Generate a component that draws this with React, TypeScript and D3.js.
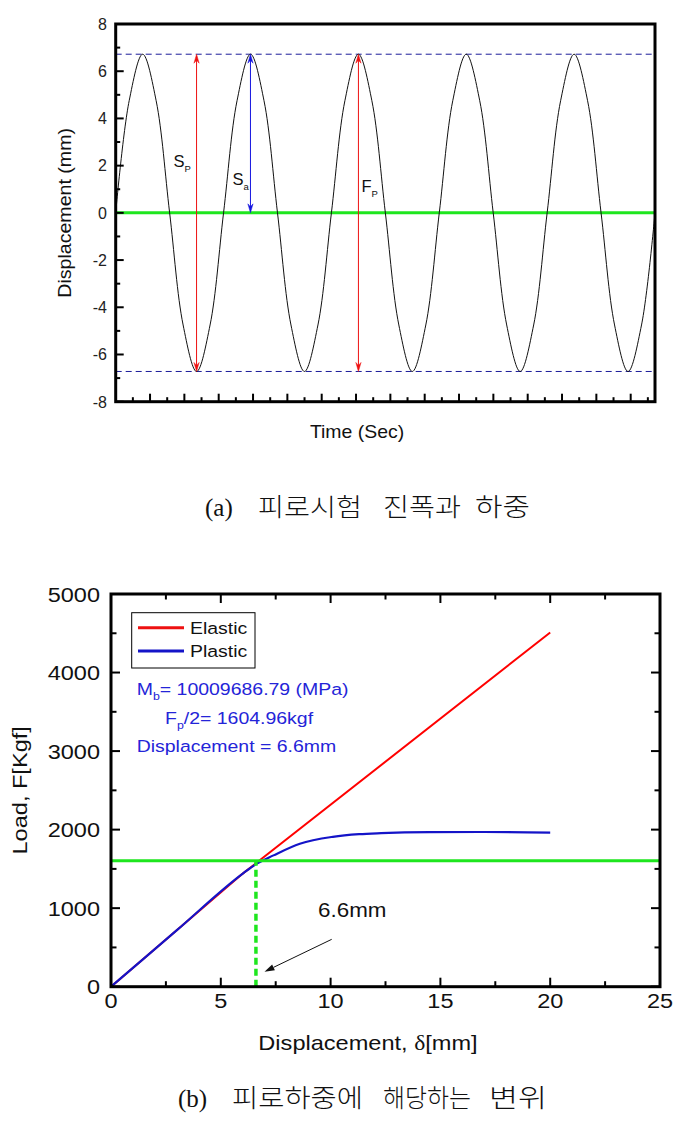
import React from 'react';
import * as d3 from 'd3';

const W = 687;
const H = 1134;

// ---------- (a) data ----------
const cycleDisplacement = [0, 4.75, 6.72, 4.75, 0, -4.75, -6.72, -4.75]; // one cycle, eighth-period samples
const cycleCount = 5;
const sampleStep = Math.PI / 4; // time units between samples
const amplitudeLevels = [6.72, -6.72];
const topYMajor = [-8, -6, -4, -2, 0, 2, 4, 6, 8];
const topYMinor = [-7, -5, -3, -1, 1, 3, 5, 7];
const topXMajor = d3.range(2, 31, 2);
const topXMinor = d3.range(1, 32, 2);
const arrowNames = ['S', 'S', 'F'];
const arrowSubs = ['P', 'a', 'P'];
const arrowTimes = [4.71, 7.85, 14.14];
const arrowFrom = [6.72, 6.72, 6.72];
const arrowTo = [-6.72, 0, -6.72];
const arrowColors = ['#ee1111', '#1515e0', '#ee1111'];
const arrowLabelValue = [1.95, 1.2, 0.9];

// ---------- (b) data ----------
const elasticDisp = [0, 6.0, 20];
const elasticLoad = [0, 1440, 4510];
const plasticDisp = [0, 3.0, 6.0, 6.6, 7.4, 8.6, 10.1, 11.3, 12.3, 14.5, 17, 20];
const plasticLoad = [0, 720, 1440, 1560, 1672, 1820, 1908, 1942, 1955, 1968, 1970, 1962];
const fatigueLoad = 1604.96;
const fatigueDisp = 6.6;
const botXMajor = [0, 5, 10, 15, 20, 25];
const botXMinor = [2.5, 7.5, 12.5, 17.5, 22.5];
const botYMajor = [0, 1000, 2000, 3000, 4000, 5000];
const botYMinor = [500, 1500, 2500, 3500, 4500];
const legendNames = ['Elastic', 'Plastic'];
const pointerFrom = [10.05, 603];
const pointerTo = [6.99, 191];
const pointerLabelAt = [9.43, 887];

// ---------- captions ----------
const captionAWords = ['피로시험', '진폭과', '하중'];
const captionBWords = ['피로하중에', '해당하는', '변위'];

const SANS = '"Liberation Sans", Arial, sans-serif';
const KR = '"Noto Sans CJK KR", sans-serif';
const SERIF = '"Liberation Serif", "DejaVu Serif", serif';

function arrowHead(x: number, y: number, dir: number, color: string, key: string) {
  const L = 9, w = 2.6;
  const d = `M${x},${y} L${x - w},${y - dir * L} L${x},${y - dir * (L - 3)} L${x + w},${y - dir * L} Z`;
  return <path key={key} d={d} fill={color} stroke={color} strokeWidth={0.5} />;
}

function TopChart() {
  const x = d3.scaleLinear().domain([0, 10 * Math.PI]).range([115.7, 655]);
  const y = d3.scaleLinear().domain([-8, 8]).range([401.7, 24]);
  const samples: [number, number][] = [];
  for (let c = 0; c < cycleCount; c++) {
    cycleDisplacement.forEach((v, i) => samples.push([(c * cycleDisplacement.length + i) * sampleStep, v]));
  }
  samples.push([cycleCount * cycleDisplacement.length * sampleStep, cycleDisplacement[0]]);
  const line = d3.line<[number, number]>().x(d => x(d[0])).y(d => y(d[1])).curve(d3.curveCatmullRom.alpha(0.5));
  const [x0, x1] = x.range();
  const [yb, yt] = y.range();
  return (
    <g>
      {amplitudeLevels.map((v, i) => (
        <line key={'amp' + i} x1={x0} x2={x1} y1={y(v)} y2={y(v)} stroke="#1c1c9a" strokeWidth={1} strokeDasharray="6,4" />
      ))}
      <line x1={x0} x2={x1} y1={y(0)} y2={y(0)} stroke="#1ee61e" strokeWidth={3} />
      <path d={line(samples) || ''} fill="none" stroke="#111" strokeWidth={1} />
      {arrowTimes.map((t, i) => {
        const ax = x(t);
        const ya = y(arrowFrom[i]);
        const yb2 = y(arrowTo[i]);
        return (
          <g key={'arr' + i}>
            <line x1={ax} x2={ax} y1={ya + 2} y2={yb2 - 2} stroke={arrowColors[i]} strokeWidth={1} />
            {arrowHead(ax, ya, -1, arrowColors[i], 'h1')}
            {arrowHead(ax, yb2, 1, arrowColors[i], 'h2')}
          </g>
        );
      })}
      {arrowTimes.map((t, i) => {
        const offs = [-23, -18, 3];
        return (
          <text key={'lab' + i} x={x(t) + offs[i]} y={y(arrowLabelValue[i])} fontFamily={SANS} fontSize={16.5} fill="#111">
            {arrowNames[i]}
            <tspan fontSize={9.5} dy={5}>{arrowSubs[i]}</tspan>
          </text>
        );
      })}
      {topYMajor.map(v => (
        <line key={'ym' + v} x1={x0} x2={x0 + 8} y1={y(v)} y2={y(v)} stroke="#000" strokeWidth={2} />
      ))}
      {topYMinor.map(v => (
        <line key={'yn' + v} x1={x0} x2={x0 + 4.5} y1={y(v)} y2={y(v)} stroke="#000" strokeWidth={2} />
      ))}
      {topXMajor.map(v => (
        <line key={'xm' + v} x1={x(v)} x2={x(v)} y1={yb} y2={yb - 8} stroke="#000" strokeWidth={2} />
      ))}
      {topXMinor.map(v => (
        <line key={'xn' + v} x1={x(v)} x2={x(v)} y1={yb} y2={yb - 4.5} stroke="#000" strokeWidth={2} />
      ))}
      <rect x={x0} y={yt} width={x1 - x0} height={yb - yt} fill="none" stroke="#000" strokeWidth={3} />
      {topYMajor.map(v => (
        <text key={'yl' + v} x={107} y={y(v) + 5.8} textAnchor="end" fontFamily={SANS} fontSize={16} fill="#222">
          {v}
        </text>
      ))}
      <text transform={`translate(71,${y(0)}) rotate(-90) scale(1.12,1)`} textAnchor="middle" fontFamily={SANS} fontSize={17.5} fill="#111">
        Displacement (mm)
      </text>
      <text transform={`translate(357,438) scale(1.08,1)`} textAnchor="middle" fontFamily={SANS} fontSize={18} fill="#111">
        Time (Sec)
      </text>
    </g>
  );
}

function BottomChart() {
  const x = d3.scaleLinear().domain([0, 25]).range([111, 660]);
  const y = d3.scaleLinear().domain([0, 5000]).range([986.7, 594]);
  const [x0, x1] = x.range();
  const [yb, yt] = y.range();
  const line = d3.line<[number, number]>().x(d => x(d[0])).y(d => y(d[1]));
  const elastic = elasticDisp.map((d, i) => [d, elasticLoad[i]] as [number, number]);
  const plastic = plasticDisp.map((d, i) => [d, plasticLoad[i]] as [number, number]);
  const plasticLine = d3.line<[number, number]>().x(d => x(d[0])).y(d => y(d[1])).curve(d3.curveMonotoneX);
  const sx = 1.12;
  const px1 = x(pointerFrom[0]), py1 = y(pointerFrom[1]);
  const px2 = x(pointerTo[0]), py2 = y(pointerTo[1]);
  const ang = Math.atan2(py2 - py1, px2 - px1);
  const hl = 10, hw = 3.2;
  const bx = px2 - hl * Math.cos(ang), by = py2 - hl * Math.sin(ang);
  const head = `M${px2},${py2} L${bx + hw * Math.sin(ang)},${by - hw * Math.cos(ang)} L${bx - hw * Math.sin(ang)},${by + hw * Math.cos(ang)} Z`;
  return (
    <g>
      <path d={line(elastic) || ''} fill="none" stroke="#ff0000" strokeWidth={2} />
      <path d={plasticLine(plastic) || ''} fill="none" stroke="#1414c8" strokeWidth={2.2} />
      <line x1={x0} x2={x1} y1={y(fatigueLoad)} y2={y(fatigueLoad)} stroke="#1ee61e" strokeWidth={3} />
      <line x1={x(fatigueDisp)} x2={x(fatigueDisp)} y1={yb} y2={y(fatigueLoad)} stroke="#1ee61e" strokeWidth={3.5} strokeDasharray="7,4" />
      <line x1={px1} x2={bx} y1={py1} y2={by} stroke="#111" strokeWidth={1} />
      <path d={head} fill="#111" />
      <text transform={`translate(${x(pointerLabelAt[0])},${y(pointerLabelAt[1])}) scale(${sx},1)`} fontFamily={SANS} fontSize={20} fill="#111">
        6.6mm
      </text>
      {botXMajor.map(v => (
        <g key={'bxm' + v}>
          <line x1={x(v)} x2={x(v)} y1={yb} y2={yb - 9} stroke="#000" strokeWidth={2} />
          <line x1={x(v)} x2={x(v)} y1={yt} y2={yt + 9} stroke="#000" strokeWidth={2} />
        </g>
      ))}
      {botXMinor.map(v => (
        <g key={'bxn' + v}>
          <line x1={x(v)} x2={x(v)} y1={yb} y2={yb - 5.5} stroke="#000" strokeWidth={2} />
          <line x1={x(v)} x2={x(v)} y1={yt} y2={yt + 5.5} stroke="#000" strokeWidth={2} />
        </g>
      ))}
      {botYMajor.map(v => (
        <g key={'bym' + v}>
          <line x1={x0} x2={x0 + 9} y1={y(v)} y2={y(v)} stroke="#000" strokeWidth={2} />
          <line x1={x1} x2={x1 - 9} y1={y(v)} y2={y(v)} stroke="#000" strokeWidth={2} />
        </g>
      ))}
      {botYMinor.map(v => (
        <g key={'byn' + v}>
          <line x1={x0} x2={x0 + 5.5} y1={y(v)} y2={y(v)} stroke="#000" strokeWidth={2} />
          <line x1={x1} x2={x1 - 5.5} y1={y(v)} y2={y(v)} stroke="#000" strokeWidth={2} />
        </g>
      ))}
      <rect x={x0} y={yt} width={x1 - x0} height={yb - yt} fill="none" stroke="#000" strokeWidth={3} />
      {botYMajor.map(v => (
        <text key={'byl' + v} transform={`translate(100,${y(v) + 7.5}) scale(${sx},1)`} textAnchor="end" fontFamily={SANS} fontSize={21} fill="#111">
          {v}
        </text>
      ))}
      {botXMajor.map(v => (
        <text key={'bxl' + v} transform={`translate(${x(v)},1008) scale(${sx},1)`} textAnchor="middle" fontFamily={SANS} fontSize={21} fill="#111">
          {v}
        </text>
      ))}
      <text transform={`translate(368,1050) scale(1.15,1)`} textAnchor="middle" fontFamily={SANS} fontSize={20.5} fill="#111">
        Displacement, <tspan fontFamily={SERIF}>δ</tspan>[mm]
      </text>
      <text transform={`translate(26.5,${(yb + yt) / 2}) rotate(-90) scale(1.15,1)`} textAnchor="middle" fontFamily={SANS} fontSize={20.5} fill="#111">
        Load, F[Kgf]
      </text>
      <rect x={131.7} y={612.7} width={123.3} height={55.3} fill="#fff" stroke="#000" strokeWidth={1} />
      {legendNames.map((n, i) => (
        <g key={n}>
          <line x1={138} x2={184} y1={627.7 + i * 23.3} y2={627.7 + i * 23.3} stroke={i === 0 ? '#ee1111' : '#1414c8'} strokeWidth={3} />
          <text transform={`translate(190,${633.5 + i * 23.3}) scale(1.18,1)`} fontFamily={SANS} fontSize={16.5} fill="#111">
            {n}
          </text>
        </g>
      ))}
      <g fontFamily={SANS} fontSize={16.5} fill="#2424d8">
        <text transform={`translate(136.7,695) scale(1.18,1)`}>
          M<tspan fontSize={10.5} dy={5}>b</tspan><tspan dy={-5}>= 10009686.79 (MPa)</tspan>
        </text>
        <text transform={`translate(165,723.5) scale(1.18,1)`}>
          F<tspan fontSize={10.5} dy={5}>p</tspan><tspan dy={-5}>/2= 1604.96kgf</tspan>
        </text>
        <text transform={`translate(136.7,752) scale(1.18,1)`}>Displacement = 6.6mm</text>
      </g>
    </g>
  );
}

function Captions() {
  const aStarts = [258, 383, 475];
  const aWidths = [104, 78, 55];
  const bStarts = [232, 383, 489];
  const bWidths = [131, 88, 58];
  return (
    <g fill="#111">
      <text x={205} y={516} fontFamily={SERIF} fontSize={25}>(a)</text>
      {captionAWords.map((w, i) => (
        <text key={'ca' + i} x={aStarts[i]} y={516} fontFamily={KR} fontSize={25} fontWeight={300} textLength={aWidths[i]} lengthAdjust="spacingAndGlyphs">
          {w}
        </text>
      ))}
      <text x={178} y={1107} fontFamily={SERIF} fontSize={25}>(b)</text>
      {captionBWords.map((w, i) => (
        <text key={'cb' + i} x={bStarts[i]} y={1107} fontFamily={KR} fontSize={25} fontWeight={300} textLength={bWidths[i]} lengthAdjust="spacingAndGlyphs">
          {w}
        </text>
      ))}
    </g>
  );
}

export default function App() {
  return (
    <svg width={W} height={H} viewBox={`0 0 ${W} ${H}`} style={{ position: 'absolute', left: 0, top: 0, background: '#fff' }}>
      <rect x={0} y={0} width={W} height={H} fill="#fff" />
      <TopChart />
      <BottomChart />
      <Captions />
    </svg>
  );
}
